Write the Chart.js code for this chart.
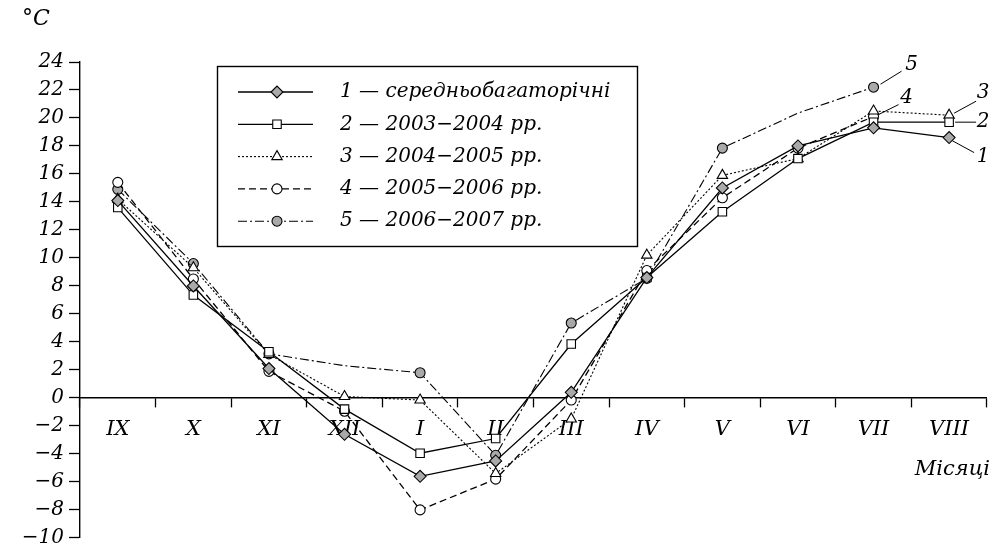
<!DOCTYPE html>
<html>
<head>
<meta charset="utf-8">
<script src="https://cdn.jsdelivr.net/npm/chart.js@4/dist/chart.umd.min.js"></script>
<style>
  html, body { margin: 0; padding: 0; background: #fff; }
  #wrap { width: 994px; height: 545px; position: relative; }
</style>
</head>
<body>
<div id="wrap"><canvas id="chart"></canvas></div>
<script>
  "use strict";

  // місяці гідрологічного року
  const MONTHS = ["IX", "X", "XI", "XII", "I", "II", "III", "IV", "V", "VI", "VII", "VIII"];

  // температура води, °C
  const T_MEAN = [14.1, 8.0, 2.1, -2.6, -5.6, -4.5, 0.4, 8.6, 15.0, 18.0, 19.3, 18.6];
  const T_2003 = [13.6, 7.35, 3.3, -0.8, -3.95, -2.9, 3.85, 8.6, 13.3, 17.1, 19.7, 19.7];
  const T_2004 = [14.2, 9.3, 3.1, 0.1, -0.15, -5.4, -1.5, 10.2, 15.9, 17.1, 20.5, 20.2];
  const T_2005 = [15.4, 8.5, 1.9, -0.95, -8.0, -5.8, -0.15, 9.1, 14.3, 17.85, 20.1, null];
  const T_2006 = [14.9, 9.6, 3.15, 2.3, 1.8, -4.1, 5.35, 8.55, 17.85, 20.35, 22.2, null];

  const LEGEND_LABELS = [
    "1 — середньобагаторічні",
    "2 — 2003−2004 рр.",
    "3 — 2004−2005 рр.",
    "4 — 2005−2006 рр.",
    "5 — 2006−2007 рр.",
  ];
  const END_TAGS = ["1", "2", "3", "4", "5"];

  const Y_MIN = -10;
  const Y_MAX = 24;
  const Y_STEP = 2;

  const FONT = "'DejaVu Serif', 'Liberation Serif', serif";
  const GREY = "#a9a9a9";

  // куди відводити підписи кривих (пікселі від останньої точки)
  const TAG_OFFSETS = [
    { s: [3, 3], e: [25, 15], t: [34, 19] },
    { s: [6, 0], e: [27, 0], t: [34, 0] },
    { s: [5, -2], e: [27, -14], t: [34, -22] },
    { s: [5, -2], e: [25, -12], t: [33, -19] },
    { s: [7, -3], e: [28, -16], t: [38, -22] },
  ];

  function minus(v) {
    return v < 0 ? "\u2212" + Math.abs(v) : String(v);
  }

  function series(data, dash, style, fill, radius, extra) {
    return Object.assign({
      data,
      borderColor: "#000",
      borderWidth: 1.3,
      borderDash: dash,
      pointStyle: style,
      pointRadius: radius,
      pointBackgroundColor: fill,
      pointBorderColor: "#000",
      pointBorderWidth: 1.1,
      tension: 0,
      fill: false,
      spanGaps: false,
    }, extra || {});
  }

  const legendBox = {
    id: "legendBox",
    afterDraw(chart) {
      const ctx = chart.ctx;
      const x0 = 217, y0 = 66, w = 420, h = 180;
      ctx.save();
      ctx.fillStyle = "#fff";
      ctx.fillRect(x0, y0, w, h);
      ctx.strokeStyle = "#000";
      ctx.lineWidth = 1.4;
      ctx.strokeRect(x0 + 0.5, y0 + 0.5, w, h);
      chart.data.datasets.forEach((ds, i) => {
        const y = 92 + i * 32.3;
        ctx.beginPath();
        ctx.setLineDash(ds.borderDash || []);
        ctx.lineWidth = ds.borderWidth;
        ctx.strokeStyle = "#000";
        ctx.moveTo(238, y);
        ctx.lineTo(313, y);
        ctx.stroke();
        ctx.setLineDash([]);
        ctx.fillStyle = ds.pointBackgroundColor;
        ctx.strokeStyle = "#000";
        ctx.lineWidth = 1.1;
        Chart.helpers.drawPoint(ctx, {
          pointStyle: ds.pointStyle,
          radius: ds.pointStyle === "circle" ? 5 : 6,
          rotation: 0,
          borderWidth: 1.1,
        }, 277, y);
        ctx.fillStyle = "#000";
        ctx.font = "italic 20px " + FONT;
        ctx.textAlign = "left";
        ctx.textBaseline = "middle";
        ctx.fillText(LEGEND_LABELS[i], 340, y);
      });
      ctx.restore();
    },
  };

  const endTags = {
    id: "endTags",
    afterDatasetsDraw(chart) {
      const ctx = chart.ctx;
      ctx.save();
      ctx.strokeStyle = "#000";
      ctx.lineWidth = 1;
      ctx.fillStyle = "#000";
      ctx.font = "italic 20px " + FONT;
      ctx.textAlign = "center";
      ctx.textBaseline = "middle";
      chart.data.datasets.forEach((ds, i) => {
        let last = ds.data.length - 1;
        while (last >= 0 && ds.data[last] == null) last--;
        const pt = chart.getDatasetMeta(i).data[last];
        const o = TAG_OFFSETS[i];
        ctx.beginPath();
        ctx.moveTo(pt.x + o.s[0], pt.y + o.s[1]);
        ctx.lineTo(pt.x + o.e[0], pt.y + o.e[1]);
        ctx.stroke();
        ctx.fillText(END_TAGS[i], pt.x + o.t[0], pt.y + o.t[1]);
      });
      ctx.restore();
    },
  };

  const axisTitles = {
    id: "axisTitles",
    afterDraw(chart) {
      const ctx = chart.ctx;
      ctx.save();
      ctx.fillStyle = "#000";
      ctx.textBaseline = "middle";
      ctx.font = "italic 22px " + FONT;
      ctx.textAlign = "left";
      ctx.fillText("°C", 22, 19);
      ctx.font = "italic 21px " + FONT;
      ctx.textAlign = "right";
      ctx.fillText("Місяці", 990, 470);
      ctx.restore();
    },
  };

  new Chart(document.getElementById("chart"), {
    type: "line",
    data: {
      labels: MONTHS,
      datasets: [
        series(T_MEAN, [], "rectRot", GREY, 6),
        series(T_2003, [], "rect", "#fff", 6),
        series(T_2004, [2, 2], "triangle", "#fff", 6, { borderWidth: 1.1 }),
        series(T_2005, [7, 4], "circle", "#fff", 5),
        series(T_2006, [9, 3, 2, 3], "circle", GREY,
          [5, 5, 5, 0, 5, 5, 5, 5, 5, 0, 5, 0], { borderWidth: 1.1 }),
      ],
    },
    options: {
      responsive: true,
      maintainAspectRatio: false,
      animation: false,
      devicePixelRatio: 1,
      layout: { padding: { top: 62, left: 0, right: 1, bottom: 4 } },
      plugins: {
        legend: { display: false },
        tooltip: { enabled: false },
      },
      scales: {
        x: {
          type: "category",
          position: { y: 0 },
          offset: true,
          grid: {
            offset: true,
            drawOnChartArea: false,
            drawTicks: true,
            tickLength: 9,
            tickColor: "#000",
            tickWidth: 1.3,
          },
          border: { display: true, color: "#000", width: 1.4 },
          ticks: {
            color: "#000",
            padding: 10,
            font: { family: FONT, size: 21, style: "italic" },
          },
        },
        y: {
          min: Y_MIN,
          max: Y_MAX,
          afterFit(scale) {
            scale.width = 80;
            scale.paddingTop = 0;
            scale.paddingBottom = 0;
          },
          grid: {
            drawOnChartArea: false,
            drawTicks: true,
            tickLength: 11,
            tickColor: "#000",
            tickWidth: 1.3,
          },
          border: { display: true, color: "#000", width: 1.4 },
          ticks: {
            stepSize: Y_STEP,
            color: "#000",
            padding: 5,
            font: { family: FONT, size: 20, style: "italic" },
            callback: (v) => minus(v),
          },
        },
      },
    },
    plugins: [legendBox, endTags, axisTitles],
  });
</script>
</body>
</html>
